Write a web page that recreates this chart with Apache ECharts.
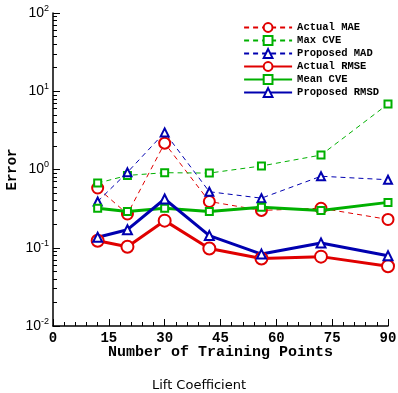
<!DOCTYPE html>
<html><head><meta charset="utf-8">
<script src="https://cdn.jsdelivr.net/npm/echarts@6/dist/echarts.min.js"></script>
<style>html,body{margin:0;padding:0;background:#fff}#c{width:398px;height:393px}</style>
</head><body><div id="c"></div>
<script>
const xPoints = [12, 20, 30, 42, 56, 72, 90];
const actualMAE = [0.58, 0.27, 2.17, 0.39, 0.30, 0.32, 0.23];
const maxCVE = [0.67, 0.84, 0.91, 0.90, 1.11, 1.53, 6.87];
const proposedMAD = [0.39, 0.92, 2.98, 0.52, 0.43, 0.82, 0.74];
const actualRMSE = [0.123, 0.103, 0.222, 0.098, 0.073, 0.077, 0.058];
const meanCVE = [0.32, 0.29, 0.32, 0.29, 0.33, 0.30, 0.38];
const proposedRMSD = [0.136, 0.170, 0.42, 0.143, 0.083, 0.115, 0.079];
const xTicks = [0, 15, 30, 45, 60, 75, 90];
const yTicks = [0.01, 0.1, 1, 10, 100];

const RED = '#e00000', GREEN = '#00b000', BLUE = '#0000b0';
const mono = '"Liberation Mono", "DejaVu Sans Mono", monospace';
const sans = '"Liberation Sans", Arial, sans-serif';
function pairs(arr) { return xPoints.map((x, i) => [x, arr[i]]); }
function ser(name, arr, color, dashed, symbol, size) {
  return {
    name, type: 'line', data: pairs(arr), symbol, symbolSize: size,
    lineStyle: { color, width: dashed ? 1 : 3, type: dashed ? [5, 4] : 'solid' },
    itemStyle: { color, borderColor: color, borderWidth: 1 },
    z: dashed ? 2 : 3
  };
}
const chart = echarts.init(document.getElementById('c'));
chart.setOption({
  animation: false,
  title: { text: 'Lift Coefficient', left: 'center', top: 374,
    textStyle: { fontFamily: '"DejaVu Sans", sans-serif', fontSize: 13, fontWeight: 'normal', color: '#000' } },
  grid: { left: 53, right: 10, top: 13, bottom: 67, outerBoundsMode: 'none', containLabel: false },
  legend: {
    orient: 'vertical', right: 14, top: 17, itemWidth: 48, itemHeight: 11, itemGap: 2,
    textStyle: { fontFamily: mono, fontWeight: 'bold', fontSize: 10.5, color: '#000' },
    data: ['Actual MAE', 'Max CVE', 'Proposed MAD', 'Actual RMSE', 'Mean CVE', 'Proposed RMSD']
  },
  xAxis: {
    type: 'value', min: xTicks[0], max: xTicks[xTicks.length - 1], interval: 15,
    name: 'Number of Training Points', nameLocation: 'middle', nameGap: 19, nameMoveOverlap: false,
    nameTextStyle: { fontFamily: mono, fontWeight: 'bold', fontSize: 15, color: '#000' },
    axisLine: { lineStyle: { color: '#000', width: 1.5 } },
    axisTick: { show: true, inside: true, length: 7, lineStyle: { color: '#000' } },
    minorTick: { show: true, splitNumber: 5, length: 4, lineStyle: { color: '#000' } },
    axisLabel: { fontFamily: mono, fontWeight: 'bold', fontSize: 14, color: '#000', margin: 5 },
    splitLine: { show: false }
  },
  yAxis: [{
    type: 'log', logBase: 10, min: yTicks[0], max: yTicks[yTicks.length - 1],
    name: 'Error', nameLocation: 'middle', nameGap: 34, nameRotate: 90, nameMoveOverlap: false,
    nameTextStyle: { fontFamily: mono, fontWeight: 'bold', fontSize: 14, color: '#000' },
    axisLine: { show: true, lineStyle: { color: '#000', width: 1.5 } },
    axisTick: { show: true, inside: true, length: 7, lineStyle: { color: '#000' } },
    minorTick: { show: true, splitNumber: 9, length: 4, lineStyle: { color: '#000' } },
    axisLabel: {
      margin: 4,
      formatter: v => '{b|10}{s|' + Math.round(Math.log10(v)) + '}',
      rich: { b: { fontFamily: sans, fontSize: 14, color: '#000' },
              s: { fontFamily: sans, fontSize: 9, color: '#000', verticalAlign: 'top', padding: [0, 0, 9, 0] } }
    },
    splitLine: { show: false }
  }],
  series: [
    ser('Actual MAE', actualMAE, RED, true, 'emptyCircle', 11),
    ser('Max CVE', maxCVE, GREEN, true, 'emptyRect', 7),
    ser('Proposed MAD', proposedMAD, BLUE, true, 'emptyTriangle', 8),
    ser('Actual RMSE', actualRMSE, RED, false, 'emptyCircle', 12),
    ser('Mean CVE', meanCVE, GREEN, false, 'emptyRect', 7),
    ser('Proposed RMSD', proposedRMSD, BLUE, false, 'emptyTriangle', 9)
  ]
});
</script></body></html>
